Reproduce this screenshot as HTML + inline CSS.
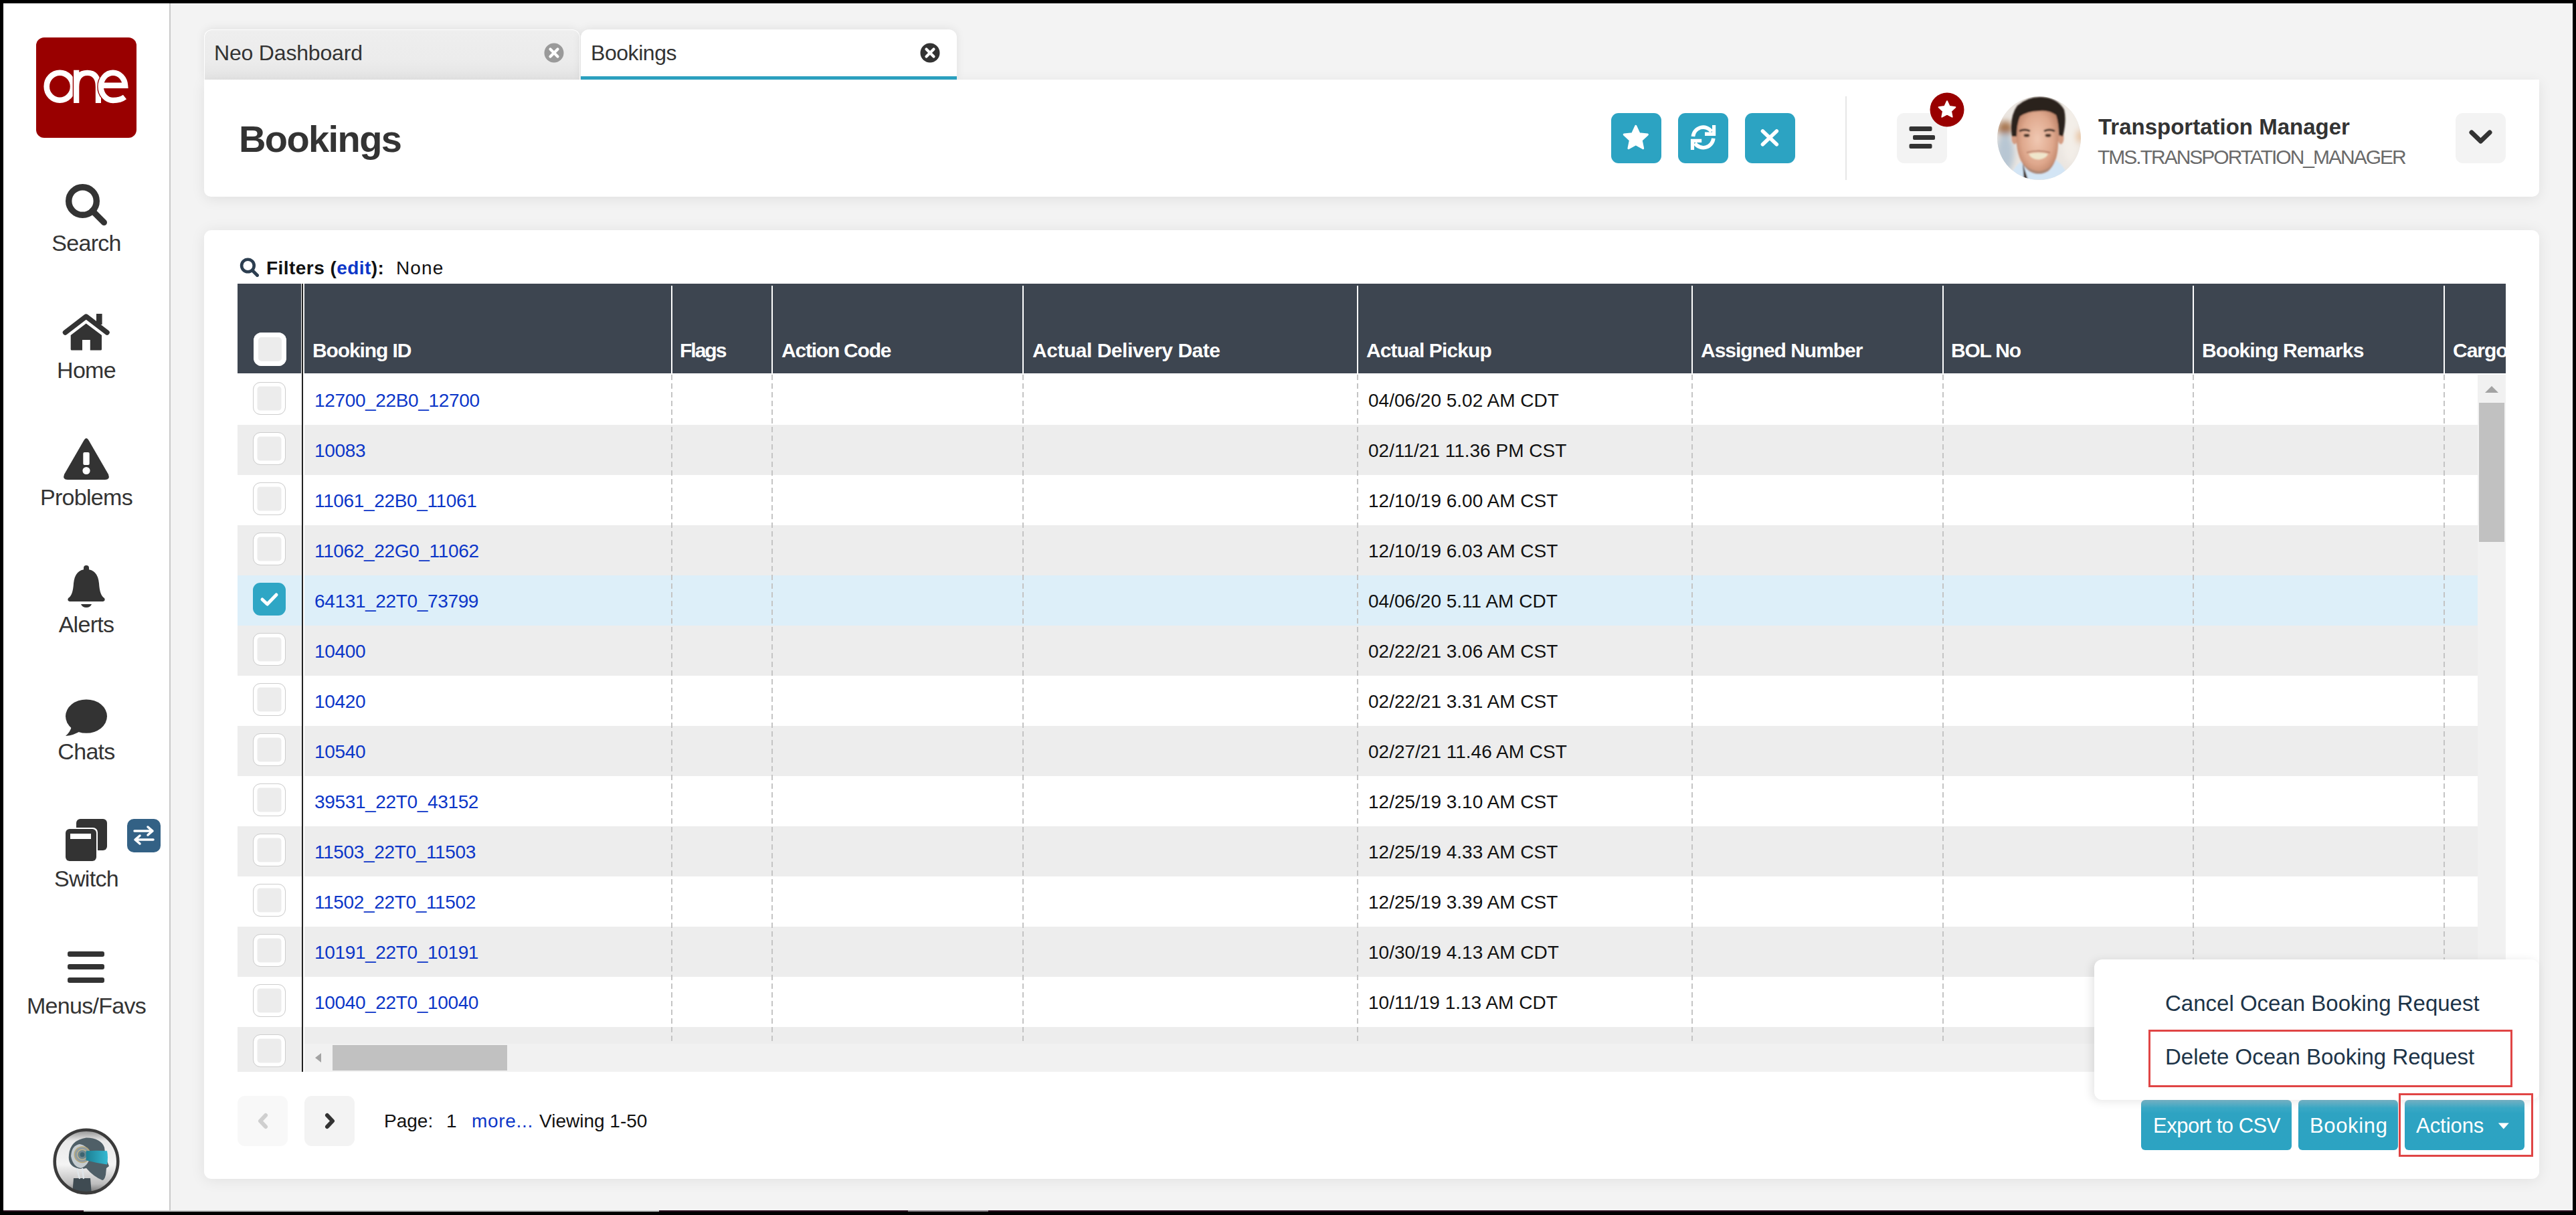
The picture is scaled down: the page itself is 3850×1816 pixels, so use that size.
<!DOCTYPE html>
<html><head><meta charset="utf-8"><style>
*{margin:0;padding:0;box-sizing:border-box}
html,body{width:3850px;height:1816px;overflow:hidden;background:#000}
body{position:relative;font-family:"Liberation Sans",sans-serif}
#frame{position:absolute;left:5px;top:5px;width:3840px;height:1806px;background:#f3f3f3}
#sidebar{position:absolute;left:5px;top:5px;width:248px;height:1804px;background:#fff}
.t{position:absolute;white-space:nowrap}
#tab1{position:absolute;left:305px;top:44px;width:562px;height:75px;background:linear-gradient(#eeeeee 0,#ececec 60%,#e4e4e4 100%);border-radius:12px 12px 0 0;border:1.5px solid #fff;border-bottom:none;box-shadow:0 -1px 14px rgba(0,0,0,0.08)}
#tab2{position:absolute;left:868px;top:44px;width:562px;height:75px;background:#fff;border-radius:12px 12px 0 0;border-bottom:5px solid #2ca3c2;box-shadow:0 -1px 14px rgba(0,0,0,0.08)}
#hdr{position:absolute;left:305px;top:119px;width:3490px;height:175px;background:#fff;border-radius:0 0 10px 10px;box-shadow:0 4px 20px rgba(0,0,0,0.08)}
#main{position:absolute;left:305px;top:344px;width:3490px;height:1418px;background:#fff;border-radius:11px;box-shadow:0 2px 22px rgba(0,0,0,0.08)}
.tb{position:absolute;top:169px;width:75px;height:75px;border-radius:11px;background:#2ca3c2}
.gb{position:absolute;top:169px;width:75px;height:75px;border-radius:11px;background:#f3f3f3}
.cb{position:absolute;width:49px;height:49px;border-radius:11px;background:#ececec;border:1.5px solid #cdcdcd;box-shadow:inset 0 0 0 5.5px #fff;filter:blur(0.4px)}
.cbh{position:absolute;width:49px;height:50px;border-radius:12px;background:#ececec;box-shadow:inset 0 0 0 7px #fff;filter:blur(0.5px)}
#body{position:absolute;left:355px;top:560px;width:3348px;height:1000px;overflow:hidden}
.dsh{position:absolute;top:0;width:2px;height:1000px;background:repeating-linear-gradient(#c4c4c4 0 8px,transparent 8px 13px)}
.bt{position:absolute;top:1644px;height:75px;border-radius:6px;background:linear-gradient(#7cbacd 0,#3aa8c5 12px,#2ea3c2 20px,#2ca3c2 100%)}
#dd{position:absolute;left:3130px;top:1434px;width:665px;height:210px;background:#fff;border-radius:12px;box-shadow:-4px 2px 14px rgba(0,0,0,0.10)}
</style></head>
<body><div id="frame"></div>
<div id="sidebar"></div><div style="position:absolute;left:253px;top:5px;width:2px;height:1806px;background:#c9c9c9"></div><div style="position:absolute;left:54px;top:56px;width:150px;height:150px;background:#990000;border-radius:12px"></div>
<svg style="position:absolute;left:54px;top:56px" width="150" height="150" viewBox="54 56 150 150">
<ellipse cx="89.4" cy="129.3" rx="19.7" ry="20.5" fill="none" stroke="#fff" stroke-width="8.6"/>
<path d="M114.2 154 V104.7 M114.2 130 Q114.2 108.8 130.5 108.8 Q146.9 108.8 146.9 130 V154" fill="none" stroke="#990000" stroke-width="11"/><path d="M114.2 154 V104.7 M114.2 130 Q114.2 108.8 130.5 108.8 Q146.9 108.8 146.9 130 V154" fill="none" stroke="#fff" stroke-width="8.2"/>
<path d="M168.9 108.7 A18.2 20.7 0 0 0 150.7 129.4 A18.2 20.7 0 0 0 168.9 150" fill="none" stroke="#990000" stroke-width="11"/><path d="M151 127.7 H187.1 A18.2 20.7 0 0 0 168.9 108.7 A18.2 20.7 0 0 0 150.7 129.4 A18.2 20.7 0 0 0 168.9 150 Q180 150 186.5 145" fill="none" stroke="#fff" stroke-width="8.4"/>
</svg>
<div class="t" style="left:9.0px;width:240px;text-align:center;top:346.2px;font-size:34px;line-height:34px;color:#333;font-weight:400;letter-spacing:-0.7px;">Search</div>
<div class="t" style="left:9.0px;width:240px;text-align:center;top:536.2px;font-size:34px;line-height:34px;color:#333;font-weight:400;letter-spacing:-0.7px;">Home</div>
<div class="t" style="left:9.0px;width:240px;text-align:center;top:726.2px;font-size:34px;line-height:34px;color:#333;font-weight:400;letter-spacing:-0.7px;">Problems</div>
<div class="t" style="left:9.0px;width:240px;text-align:center;top:916.2px;font-size:34px;line-height:34px;color:#333;font-weight:400;letter-spacing:-0.7px;">Alerts</div>
<div class="t" style="left:9.0px;width:240px;text-align:center;top:1106.2px;font-size:34px;line-height:34px;color:#333;font-weight:400;letter-spacing:-0.7px;">Chats</div>
<div class="t" style="left:9.0px;width:240px;text-align:center;top:1296.2px;font-size:34px;line-height:34px;color:#333;font-weight:400;letter-spacing:-0.7px;">Switch</div>
<div class="t" style="left:9.0px;width:240px;text-align:center;top:1486.2px;font-size:34px;line-height:34px;color:#333;font-weight:400;letter-spacing:-0.7px;">Menus/Favs</div>
<svg style="position:absolute;left:95px;top:272px" width="70" height="70" viewBox="0 0 70 70">
<circle cx="28.5" cy="28.5" r="20.8" fill="none" stroke="#333" stroke-width="9.4"/>
<line x1="43" y1="43" x2="60.5" y2="60.5" stroke="#333" stroke-width="9" stroke-linecap="round"/></svg><svg style="position:absolute;left:90px;top:465px" width="80" height="64" viewBox="0 0 80 64">
<path d="M7.5 32 L38.7 8 L70 32" fill="none" stroke="#333" stroke-width="7.5" stroke-linecap="round" stroke-linejoin="round"/>
<rect x="54" y="4" width="8.6" height="16" fill="#333"/>
<path d="M15.7 36 L38.7 18.5 L62 36 V57 Q62 58.5 60.5 58.5 H44.8 V43 H33 V58.5 H17.2 Q15.7 58.5 15.7 57 Z" fill="#333"/></svg><svg style="position:absolute;left:90px;top:650px" width="80" height="72" viewBox="0 0 80 72">
<path d="M35.5 8 Q39 2 42.5 8 L72 59 Q75 67 67 67 H11 Q3 67 6 59 Z" fill="#333"/>
<rect x="34.3" y="26" width="9.4" height="19" rx="2" fill="#fff"/>
<circle cx="39" cy="53.5" r="5.6" fill="#fff"/></svg><svg style="position:absolute;left:98px;top:842px" width="62" height="68" viewBox="0 0 62 68">
<rect x="27" y="3" width="8" height="10" rx="4" fill="#333"/>
<path d="M31 9 Q14 9 12 30 Q11 48 4 52 Q2 56 6 57 H56 Q60 56 58 52 Q51 48 50 30 Q48 9 31 9 Z" fill="#333"/>
<path d="M23 61 H39 Q37 66 31 66 Q25 66 23 61 Z" fill="#333"/></svg><svg style="position:absolute;left:95px;top:1042px" width="68" height="62" viewBox="0 0 68 62">
<ellipse cx="34" cy="28.6" rx="31" ry="25.2" fill="#333"/>
<path d="M12 44 Q10 52 3 58 Q16 57 26 50 Z" fill="#333"/></svg><svg style="position:absolute;left:95px;top:1221px" width="68" height="70" viewBox="0 0 68 70">
<rect x="19" y="3" width="46" height="47" rx="6" fill="#333"/>
<rect x="1" y="16" width="50" height="52" rx="7" fill="#fff"/>
<rect x="3" y="18" width="46" height="48" rx="6" fill="#333"/>
<rect x="10" y="25" width="31" height="8" fill="#fff"/></svg><div style="position:absolute;left:190px;top:1224px;width:50px;height:50px;border-radius:10px;background:#336185"></div>
<svg style="position:absolute;left:190px;top:1224px" width="50" height="50" viewBox="0 0 50 50">
<path d="M11 18 H37 M31 12 L38 18 L31 24" fill="none" stroke="#fff" stroke-width="3.5" stroke-linecap="round" stroke-linejoin="round"/>
<path d="M39 31 H13 M19 25 L12 31 L19 37" fill="none" stroke="#fff" stroke-width="3.5" stroke-linecap="round" stroke-linejoin="round"/></svg><svg style="position:absolute;left:100px;top:1420px" width="58" height="52" viewBox="0 0 58 52">
<rect x="1" y="2" width="55" height="8" rx="3" fill="#333"/>
<rect x="1" y="21" width="55" height="8" rx="3" fill="#333"/>
<rect x="1" y="41" width="55" height="8" rx="3" fill="#333"/></svg><svg style="position:absolute;left:79px;top:1686px" width="100" height="100" viewBox="0 0 100 100">
<defs><linearGradient id="aig" x1="0" y1="0" x2="0" y2="1"><stop offset="0" stop-color="#8a8a8a"/><stop offset="0.18" stop-color="#e9e9e9"/><stop offset="0.55" stop-color="#f4f4f4"/><stop offset="0.85" stop-color="#bdbdbd"/><stop offset="1" stop-color="#6a6a6a"/></linearGradient>
<linearGradient id="vis" x1="0" y1="0" x2="1" y2="0"><stop offset="0" stop-color="#1d7f93"/><stop offset="1" stop-color="#34b9d2"/></linearGradient>
<clipPath id="aic"><circle cx="50" cy="50" r="46"/></clipPath></defs>
<circle cx="50" cy="50" r="48" fill="url(#aig)"/>
<g clip-path="url(#aic)">
<path d="M31 75 L56 75 L58 100 H29 Z" fill="#3f4b52"/>
<path d="M24 40 Q26 18 50 14.5 Q72 15 77 29 L79 44 L84 57 L80 60 L79 70 Q77 78 74 78 Q60 72 50 60 Q42 62 36 60 Q22 56 24 40 Z" fill="#4f5f67"/>
<path d="M27 42 Q28 26 40 24 Q52 26 56 40 Q54 56 42 60 Q30 58 27 42 Z" fill="#c5ccd0"/>
<circle cx="44" cy="39.7" r="12.5" fill="#b9aa7c"/><circle cx="44" cy="39.7" r="11" fill="#8f9ca3"/><circle cx="44" cy="39.7" r="8" fill="#c9b98a"/><circle cx="44" cy="39.7" r="6.8" fill="#6f8790"/><circle cx="44" cy="39.7" r="3.5" fill="#3d6470"/>
<path d="M36 60 L40 76 M44 60 L46 76" stroke="#dfe6ea" stroke-width="2.2"/>
<path d="M49.5 34.3 Q66 33 81 34.3 Q83 44 81 54.6 Q64 52 49.5 48.2 Z" fill="url(#vis)"/>
</g>
<circle cx="50" cy="50" r="47.3" fill="none" stroke="#3b3b3b" stroke-width="4.6"/></svg><div style="position:absolute;left:5px;top:1809px;width:3840px;height:2px;background:#2e1020"></div><div style="position:absolute;left:125px;top:1809px;width:860px;height:2px;background:#c8c8c8"></div><div style="position:absolute;left:1357px;top:1809px;width:120px;height:2px;background:#8a8088"></div><div id="tab1"></div><div id="tab2"></div><div class="t" style="left:320.0px;top:62.9px;font-size:32px;line-height:32px;color:#333;font-weight:400;letter-spacing:-0.18px;">Neo Dashboard</div>
<div class="t" style="left:883.0px;top:62.9px;font-size:32px;line-height:32px;color:#333;font-weight:400;letter-spacing:-0.45px;">Bookings</div>
<svg style="position:absolute;left:813px;top:64px" width="30" height="30" viewBox="0 0 30 30">
<circle cx="15" cy="15" r="14.5" fill="#9a9a9a"/><path d="M9.5 9.5 L20.5 20.5 M20.5 9.5 L9.5 20.5" stroke="#fff" stroke-width="4.2" stroke-linecap="round"/></svg><svg style="position:absolute;left:1375px;top:64px" width="30" height="30" viewBox="0 0 30 30">
<circle cx="15" cy="15" r="14.5" fill="#333"/><path d="M9.5 9.5 L20.5 20.5 M20.5 9.5 L9.5 20.5" stroke="#fff" stroke-width="4.2" stroke-linecap="round"/></svg><div id="hdr"></div><div class="t" style="left:357.0px;top:179.6px;font-size:56px;line-height:56px;color:#333;font-weight:700;letter-spacing:-1.6px;">Bookings</div>
<div class="tb" style="left:2408px"></div><svg style="position:absolute;left:2408px;top:169px" width="75" height="75" viewBox="0 0 75 75"><polygon points="36.80,19.30 41.97,30.68 54.39,32.08 45.17,40.52 47.67,52.77 36.80,46.60 25.93,52.77 28.43,40.52 19.21,32.08 31.63,30.68" fill="#fff" stroke="#fff" stroke-width="3" stroke-linejoin="round"/></svg><div class="tb" style="left:2508px"></div><svg style="position:absolute;left:2508px;top:169px" width="75" height="75" viewBox="0 0 75 75"><path d="M22.4 35 A15.2 15.2 0 0 1 50.05 27.7" fill="none" stroke="#fff" stroke-width="5.6"/><path d="M51 18 H56.2 V34.1 H40 V28.4 H51 Z" fill="#fff"/><path d="M52.8 37.8 A15.2 15.2 0 0 1 25.15 45.1" fill="none" stroke="#fff" stroke-width="5.6"/><path d="M18.9 55.1 H24.1 V44.1 H35.2 V38.8 H18.9 Z" fill="#fff"/></svg><div class="tb" style="left:2608px"></div><svg style="position:absolute;left:2608px;top:169px" width="75" height="75" viewBox="0 0 75 75"><path d="M26.5 27 L47.3 46.8 M47.3 27 L26.5 46.8" stroke="#fff" stroke-width="5.6" stroke-linecap="round"/></svg><div style="position:absolute;left:2758px;top:144px;width:2px;height:125px;background:#e6e6e6"></div><div class="gb" style="left:2835px"></div><svg style="position:absolute;left:2835px;top:169px" width="75" height="75" viewBox="0 0 75 75">
<rect x="18.5" y="20" width="34" height="7" rx="2" fill="#333"/><rect x="24" y="33" width="33" height="7" rx="2" fill="#333"/><rect x="18.5" y="46" width="34" height="7" rx="2" fill="#333"/></svg><svg style="position:absolute;left:2883px;top:137px" width="54" height="54" viewBox="0 0 54 54">
<circle cx="27" cy="27" r="25.5" fill="#990000"/><polygon points="27.00,14.20 30.70,22.10 39.36,23.18 32.99,29.15 34.64,37.72 27.00,33.50 19.36,37.72 21.01,29.15 14.64,23.18 23.30,22.10" fill="#fff" stroke="#fff" stroke-width="2" stroke-linejoin="round"/></svg><svg style="position:absolute;left:2985px;top:144px" width="125" height="125" viewBox="0 0 125 125">
<defs><clipPath id="avc"><circle cx="62.5" cy="62.5" r="62.5"/></clipPath>
<filter id="bl" x="-50%" y="-50%" width="200%" height="200%"><feGaussianBlur stdDeviation="5"/></filter>
<filter id="bl2"><feGaussianBlur stdDeviation="0.9"/></filter>
<radialGradient id="skin" cx="50%" cy="50%" r="60%"><stop offset="0" stop-color="#f0c8b2"/><stop offset="0.6" stop-color="#dfa88d"/><stop offset="1" stop-color="#b57a5f"/></radialGradient></defs>
<g clip-path="url(#avc)">
<rect width="125" height="125" fill="#ebe6e1"/>
<g filter="url(#bl)"><ellipse cx="12" cy="48" rx="11" ry="11" fill="#a77650"/><ellipse cx="12" cy="85" rx="13" ry="30" fill="#b7c6d3"/><ellipse cx="110" cy="55" rx="14" ry="45" fill="#f3eee8"/><ellipse cx="123" cy="60" rx="4" ry="10" fill="#e5b27a"/></g>
<g filter="url(#bl2)">
<path d="M18 125 Q24 102 44 92 L82 92 Q100 100 108 125 Z" fill="#d3e5f5"/>
<path d="M38 100 L46 125 H40 Z" fill="#3a2a22"/>
<ellipse cx="26" cy="62" rx="4.5" ry="9.5" fill="#d49c82"/><ellipse cx="95" cy="62" rx="4.5" ry="9.5" fill="#d49c82"/>
<path d="M28 42 Q28 14 60 12 Q92 14 92 42 L91 72 Q90 100 76 112 Q62 120 48 112 Q32 100 29 72 Z" fill="url(#skin)"/>
<path d="M36 96 Q46 116 62 116 Q78 116 86 96 Q80 110 62 112 Q44 110 36 96 Z" fill="#9a8478" opacity="0.6"/>
<path d="M22 60 Q18 30 30 14 Q46 0 66 1 Q90 2 100 20 Q104 36 98 60 L92 58 Q92 40 88 28 Q76 20 62 22 Q46 22 34 30 Q29 42 29 60 Z" fill="#2b201b"/>
<path d="M33 52 Q41 48 49 52" stroke="#3a2a22" stroke-width="3" fill="none"/><path d="M70 52 Q78 48 86 52" stroke="#3a2a22" stroke-width="3" fill="none"/>
<ellipse cx="44" cy="58.5" rx="4.5" ry="2.4" fill="#4a3428"/><ellipse cx="76" cy="58.5" rx="4.5" ry="2.4" fill="#4a3428"/>
<path d="M47 86 Q61 82.5 76 86 Q72 94 61 94.5 Q51 94 47 86 Z" fill="#efe6cc"/>
<path d="M44 84 Q61 79 79 84" stroke="#a9705c" stroke-width="1.6" fill="none"/>
</g></g></svg><div class="t" style="left:3136.0px;top:173.1px;font-size:33px;line-height:33px;color:#333;font-weight:700;">Transportation Manager</div>
<div class="t" style="left:3135.0px;top:220.1px;font-size:30px;line-height:30px;color:#6a6a6a;font-weight:400;letter-spacing:-2.0px;">TMS.TRANSPORTATION_MANAGER</div>
<div class="gb" style="left:3670px"></div><svg style="position:absolute;left:3670px;top:169px" width="75" height="75" viewBox="0 0 75 75">
<path d="M24 29 L37.5 42 L51 29" fill="none" stroke="#333" stroke-width="7" stroke-linecap="round" stroke-linejoin="round"/></svg><div id="main"></div><svg style="position:absolute;left:356px;top:382px;filter:blur(0.5px)" width="34" height="34" viewBox="0 0 34 34">
<circle cx="14.4" cy="15" r="9.3" fill="none" stroke="#2c3e50" stroke-width="4.6"/><line x1="21.5" y1="22.5" x2="28.5" y2="29.5" stroke="#2c3e50" stroke-width="5" stroke-linecap="round"/></svg><div class="t" style="left:398.0px;top:386.8px;font-size:28px;line-height:28px;color:#111;font-weight:700;letter-spacing:0.45px;">Filters (<span style="color:#0c36c8">edit</span>):</div>
<div class="t" style="left:592.0px;top:386.8px;font-size:28px;line-height:28px;color:#111;font-weight:400;letter-spacing:1.1px;">None</div>
<div style="position:absolute;left:355px;top:424px;width:3390px;height:134px;background:#3d4550"></div><div style="position:absolute;left:1003px;top:427px;width:2px;height:131px;background:#fff"></div><div style="position:absolute;left:1153px;top:427px;width:2px;height:131px;background:#fff"></div><div style="position:absolute;left:1528px;top:427px;width:2px;height:131px;background:#fff"></div><div style="position:absolute;left:2028px;top:427px;width:2px;height:131px;background:#fff"></div><div style="position:absolute;left:2528px;top:427px;width:2px;height:131px;background:#fff"></div><div style="position:absolute;left:2903px;top:427px;width:2px;height:131px;background:#fff"></div><div style="position:absolute;left:3277px;top:427px;width:2px;height:131px;background:#fff"></div><div style="position:absolute;left:3652px;top:427px;width:2px;height:131px;background:#fff"></div><div style="position:absolute;left:449.5px;top:424px;width:5.5px;height:134px;background:#f4f4f4"></div><div style="position:absolute;left:355px;top:424px;width:3390px;height:134px;overflow:hidden"><div class="t" style="left:112.0px;top:85.1px;font-size:30px;line-height:30px;color:#fff;font-weight:700;letter-spacing:-1.11px;">Booking ID</div>
<div class="t" style="left:661.0px;top:85.1px;font-size:30px;line-height:30px;color:#fff;font-weight:700;letter-spacing:-2.0px;">Flags</div>
<div class="t" style="left:813.0px;top:85.1px;font-size:30px;line-height:30px;color:#fff;font-weight:700;letter-spacing:-1.22px;">Action Code</div>
<div class="t" style="left:1188.0px;top:85.1px;font-size:30px;line-height:30px;color:#fff;font-weight:700;letter-spacing:-0.48px;">Actual Delivery Date</div>
<div class="t" style="left:1687.0px;top:85.1px;font-size:30px;line-height:30px;color:#fff;font-weight:700;letter-spacing:-0.88px;">Actual Pickup</div>
<div class="t" style="left:2187.0px;top:85.1px;font-size:30px;line-height:30px;color:#fff;font-weight:700;letter-spacing:-1.02px;">Assigned Number</div>
<div class="t" style="left:2561.0px;top:85.1px;font-size:30px;line-height:30px;color:#fff;font-weight:700;letter-spacing:-1.2px;">BOL No</div>
<div class="t" style="left:2936.0px;top:85.1px;font-size:30px;line-height:30px;color:#fff;font-weight:700;letter-spacing:-0.91px;">Booking Remarks</div>
<div class="t" style="left:3311.0px;top:85.1px;font-size:30px;line-height:30px;color:#fff;font-weight:700;letter-spacing:-1.0px;">Cargo Type</div>
</div><div class="cbh" style="left:379px;top:497px"></div><div id="body"><div style="position:absolute;left:0;top:0px;width:3390px;height:75px;background:#ffffff"></div><div style="position:absolute;left:0;top:75px;width:3390px;height:75px;background:#ededed"></div><div style="position:absolute;left:0;top:150px;width:3390px;height:75px;background:#ffffff"></div><div style="position:absolute;left:0;top:225px;width:3390px;height:75px;background:#ededed"></div><div style="position:absolute;left:0;top:300px;width:3390px;height:75px;background:#ddeff9"></div><div style="position:absolute;left:0;top:375px;width:3390px;height:75px;background:#ededed"></div><div style="position:absolute;left:0;top:450px;width:3390px;height:75px;background:#ffffff"></div><div style="position:absolute;left:0;top:525px;width:3390px;height:75px;background:#ededed"></div><div style="position:absolute;left:0;top:600px;width:3390px;height:75px;background:#ffffff"></div><div style="position:absolute;left:0;top:675px;width:3390px;height:75px;background:#ededed"></div><div style="position:absolute;left:0;top:750px;width:3390px;height:75px;background:#ffffff"></div><div style="position:absolute;left:0;top:825px;width:3390px;height:75px;background:#ededed"></div><div style="position:absolute;left:0;top:900px;width:3390px;height:75px;background:#ffffff"></div><div style="position:absolute;left:0;top:975px;width:3390px;height:75px;background:#ededed"></div><div class="dsh" style="left:648px"></div><div class="dsh" style="left:798px"></div><div class="dsh" style="left:1173px"></div><div class="dsh" style="left:1673px"></div><div class="dsh" style="left:2173px"></div><div class="dsh" style="left:2548px"></div><div class="dsh" style="left:2922px"></div><div class="dsh" style="left:3297px"></div><div class="t" style="left:115.0px;top:25.1px;font-size:28px;line-height:28px;color:#0c36c8;font-weight:400;letter-spacing:-0.35px;">12700_22B0_12700</div>
<div class="t" style="left:1690.0px;top:25.1px;font-size:28px;line-height:28px;color:#111;font-weight:400;">04/06/20 5.02 AM CDT</div>
<div class="t" style="left:115.0px;top:100.1px;font-size:28px;line-height:28px;color:#0c36c8;font-weight:400;letter-spacing:-0.35px;">10083</div>
<div class="t" style="left:1690.0px;top:100.1px;font-size:28px;line-height:28px;color:#111;font-weight:400;">02/11/21 11.36 PM CST</div>
<div class="t" style="left:115.0px;top:175.1px;font-size:28px;line-height:28px;color:#0c36c8;font-weight:400;letter-spacing:-0.35px;">11061_22B0_11061</div>
<div class="t" style="left:1690.0px;top:175.1px;font-size:28px;line-height:28px;color:#111;font-weight:400;">12/10/19 6.00 AM CST</div>
<div class="t" style="left:115.0px;top:250.1px;font-size:28px;line-height:28px;color:#0c36c8;font-weight:400;letter-spacing:-0.35px;">11062_22G0_11062</div>
<div class="t" style="left:1690.0px;top:250.1px;font-size:28px;line-height:28px;color:#111;font-weight:400;">12/10/19 6.03 AM CST</div>
<div class="t" style="left:115.0px;top:325.1px;font-size:28px;line-height:28px;color:#0c36c8;font-weight:400;letter-spacing:-0.35px;">64131_22T0_73799</div>
<div class="t" style="left:1690.0px;top:325.1px;font-size:28px;line-height:28px;color:#111;font-weight:400;">04/06/20 5.11 AM CDT</div>
<div class="t" style="left:115.0px;top:400.1px;font-size:28px;line-height:28px;color:#0c36c8;font-weight:400;letter-spacing:-0.35px;">10400</div>
<div class="t" style="left:1690.0px;top:400.1px;font-size:28px;line-height:28px;color:#111;font-weight:400;">02/22/21 3.06 AM CST</div>
<div class="t" style="left:115.0px;top:475.1px;font-size:28px;line-height:28px;color:#0c36c8;font-weight:400;letter-spacing:-0.35px;">10420</div>
<div class="t" style="left:1690.0px;top:475.1px;font-size:28px;line-height:28px;color:#111;font-weight:400;">02/22/21 3.31 AM CST</div>
<div class="t" style="left:115.0px;top:550.1px;font-size:28px;line-height:28px;color:#0c36c8;font-weight:400;letter-spacing:-0.35px;">10540</div>
<div class="t" style="left:1690.0px;top:550.1px;font-size:28px;line-height:28px;color:#111;font-weight:400;">02/27/21 11.46 AM CST</div>
<div class="t" style="left:115.0px;top:625.1px;font-size:28px;line-height:28px;color:#0c36c8;font-weight:400;letter-spacing:-0.35px;">39531_22T0_43152</div>
<div class="t" style="left:1690.0px;top:625.1px;font-size:28px;line-height:28px;color:#111;font-weight:400;">12/25/19 3.10 AM CST</div>
<div class="t" style="left:115.0px;top:700.1px;font-size:28px;line-height:28px;color:#0c36c8;font-weight:400;letter-spacing:-0.35px;">11503_22T0_11503</div>
<div class="t" style="left:1690.0px;top:700.1px;font-size:28px;line-height:28px;color:#111;font-weight:400;">12/25/19 4.33 AM CST</div>
<div class="t" style="left:115.0px;top:775.1px;font-size:28px;line-height:28px;color:#0c36c8;font-weight:400;letter-spacing:-0.35px;">11502_22T0_11502</div>
<div class="t" style="left:1690.0px;top:775.1px;font-size:28px;line-height:28px;color:#111;font-weight:400;">12/25/19 3.39 AM CST</div>
<div class="t" style="left:115.0px;top:850.1px;font-size:28px;line-height:28px;color:#0c36c8;font-weight:400;letter-spacing:-0.35px;">10191_22T0_10191</div>
<div class="t" style="left:1690.0px;top:850.1px;font-size:28px;line-height:28px;color:#111;font-weight:400;">10/30/19 4.13 AM CDT</div>
<div class="t" style="left:115.0px;top:925.1px;font-size:28px;line-height:28px;color:#0c36c8;font-weight:400;letter-spacing:-0.35px;">10040_22T0_10040</div>
<div class="t" style="left:1690.0px;top:925.1px;font-size:28px;line-height:28px;color:#111;font-weight:400;">10/11/19 1.13 AM CDT</div>
</div><div style="position:absolute;left:355px;top:1560px;width:96px;height:42px;background:#ededed"></div><div class="cb" style="left:378px;top:571px"></div><div class="cb" style="left:378px;top:646px"></div><div class="cb" style="left:378px;top:721px"></div><div class="cb" style="left:378px;top:796px"></div><div class="cb" style="left:378px;top:871px;background:#2fa6c5;border:none;box-shadow:none"></div><svg style="position:absolute;left:378px;top:871px" width="49" height="49" viewBox="0 0 49 49"><path d="M14 25 L21.5 32 L35 18" fill="none" stroke="#fff" stroke-width="5" stroke-linecap="round" stroke-linejoin="round"/></svg><div class="cb" style="left:378px;top:946px"></div><div class="cb" style="left:378px;top:1021px"></div><div class="cb" style="left:378px;top:1096px"></div><div class="cb" style="left:378px;top:1171px"></div><div class="cb" style="left:378px;top:1246px"></div><div class="cb" style="left:378px;top:1321px"></div><div class="cb" style="left:378px;top:1396px"></div><div class="cb" style="left:378px;top:1471px"></div><div class="cb" style="left:378px;top:1546px"></div><div style="position:absolute;left:451px;top:424px;width:2px;height:1178px;background:#222"></div><div style="position:absolute;left:453px;top:558px;width:2px;height:1044px;background:#fff"></div><div style="position:absolute;left:455px;top:1560px;width:3290px;height:42px;background:#f1f1f1"></div><svg style="position:absolute;left:468px;top:1572px" width="16" height="18" viewBox="0 0 16 18"><path d="M3 9 L12 2 V16 Z" fill="#a3a3a3"/></svg><div style="position:absolute;left:497px;top:1562px;width:261px;height:38px;background:#c1c1c1"></div><div style="position:absolute;left:3703px;top:560px;width:42px;height:1000px;background:#f1f1f1"></div><svg style="position:absolute;left:3712px;top:574px" width="24" height="16" viewBox="0 0 24 16"><path d="M2 13 L12 3 L22 13 Z" fill="#a3a3a3"/></svg><div style="position:absolute;left:3705px;top:602px;width:38px;height:208px;background:#c1c1c1"></div><div class="gb" style="left:355px;top:1638px;background:#f8f8f8"></div><svg style="position:absolute;left:355px;top:1638px" width="75" height="75" viewBox="0 0 75 75"><path d="M42 29 L34 37.5 L42 46" fill="none" stroke="#cfcfcf" stroke-width="6" stroke-linecap="round" stroke-linejoin="round"/></svg><div class="gb" style="left:455px;top:1638px"></div><svg style="position:absolute;left:455px;top:1638px" width="75" height="75" viewBox="0 0 75 75"><path d="M34 29 L42 37.5 L34 46" fill="none" stroke="#333" stroke-width="6" stroke-linecap="round" stroke-linejoin="round"/></svg><div class="t" style="left:574.0px;top:1662.3px;font-size:28px;line-height:28px;color:#111;font-weight:400;">Page:</div>
<div class="t" style="left:667.0px;top:1662.3px;font-size:28px;line-height:28px;color:#111;font-weight:400;">1</div>
<div class="t" style="left:705.0px;top:1662.3px;font-size:28px;line-height:28px;color:#0c36c8;font-weight:400;letter-spacing:0.7px;">more...</div>
<div class="t" style="left:806.0px;top:1662.3px;font-size:28px;line-height:28px;color:#111;font-weight:400;">Viewing 1-50</div>
<div class="bt" style="left:3200px;width:225px"></div><div class="t" style="left:3218.0px;top:1666.8px;font-size:31px;line-height:31px;color:#fff;font-weight:400;letter-spacing:-0.5px;">Export to CSV</div>
<div class="bt" style="left:3435px;width:149px"></div><div class="t" style="left:3452.0px;top:1666.8px;font-size:31px;line-height:31px;color:#fff;font-weight:400;letter-spacing:0.65px;">Booking</div>
<div class="bt" style="left:3594px;width:179px"></div><div class="t" style="left:3611.0px;top:1666.8px;font-size:31px;line-height:31px;color:#fff;font-weight:400;letter-spacing:-0.05px;">Actions</div>
<svg style="position:absolute;left:3730px;top:1674px" width="20" height="14" viewBox="0 0 20 14"><path d="M3.8 4.5 H19.8 L11.8 13.5 Z" fill="#fff"/></svg><div id="dd"></div><div class="t" style="left:3236.0px;top:1483.1px;font-size:33px;line-height:33px;color:#1d3448;font-weight:400;">Cancel Ocean Booking Request</div>
<div class="t" style="left:3236.0px;top:1563.1px;font-size:33px;line-height:33px;color:#1d3448;font-weight:400;">Delete Ocean Booking Request</div>
<div style="position:absolute;left:3211px;top:1539px;width:544px;height:86px;border:3px solid #e04545"></div><div style="position:absolute;left:3585px;top:1634px;width:201px;height:95px;border:3px solid #e04545"></div>
</body></html>
